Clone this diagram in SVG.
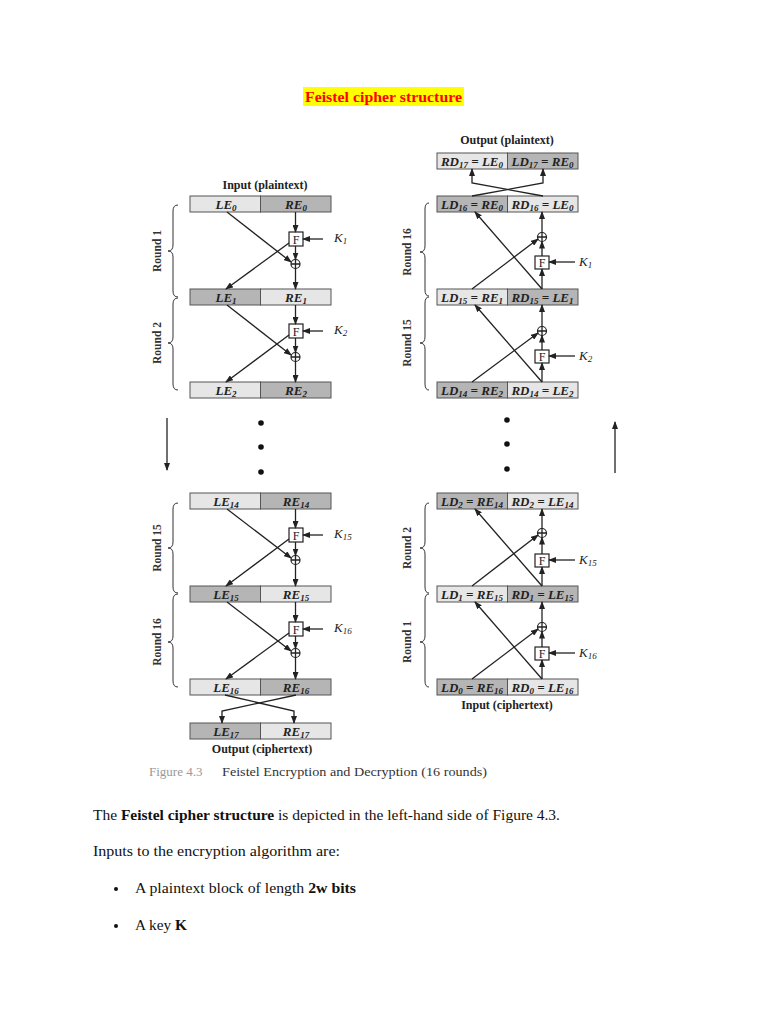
<svg xmlns="http://www.w3.org/2000/svg" width="768" height="1024" viewBox="0 0 768 1024">
<style>
.bx{stroke:#555;stroke-width:1}
.lt{fill:#e6e6e6}
.dk{fill:#b5b5b5}
.ln{fill:none;stroke:#222;stroke-width:1.3}
.ar{fill:none;stroke:#222;stroke-width:1.3;marker-end:url(#ah)}
.fb{fill:#fff;stroke:#222;stroke-width:1.2}
.br{fill:none;stroke:#333;stroke-width:1}
.lb{font-family:"Liberation Serif",serif;font-style:italic;font-weight:bold;font-size:13px;fill:#222;text-anchor:middle}
.sb{font-size:9px}
.hd{font-family:"Liberation Serif",serif;font-weight:bold;font-size:12px;fill:#222;text-anchor:middle}
.rd{font-family:"Liberation Serif",serif;font-weight:bold;font-size:11.5px;fill:#333;text-anchor:middle}
.ft{font-family:"Liberation Serif",serif;font-size:12px;fill:#222;text-anchor:middle}
.ky{font-family:"Liberation Serif",serif;font-style:italic;font-size:13px;fill:#222}
.body{font-family:"Liberation Serif",serif;font-size:15px;fill:#111}
</style>
<defs>
<marker id="ah" markerUnits="userSpaceOnUse" markerWidth="8" markerHeight="6" refX="7" refY="3" orient="auto">
<path d="M0,0 L8,3 L0,6 z" fill="#222"/>
</marker>
</defs>
<rect width="768" height="1024" fill="#fff"/>

<!-- Title -->
<g id="title">
<rect x="303" y="87" width="161" height="19" fill="#ffff00"/>
<text x="383.5" y="101.5" font-family="Liberation Serif,serif" font-weight="bold" font-size="15" fill="#ff0000" text-anchor="middle" textLength="157" lengthAdjust="spacingAndGlyphs">Feistel cipher structure</text>
</g>

<!-- LEFT: Encryption -->
<text class="hd" x="265" y="189">Input (plaintext)</text>

<g id="enc-box0">
<rect class="bx lt" x="190" y="196" width="70.5" height="16"/><rect class="bx dk" x="260.5" y="196" width="70.5" height="16"/>
<text class="lb" x="226" y="208.5">LE<tspan class="sb" dy="2">0</tspan></text>
<text class="lb" x="296" y="208.5">RE<tspan class="sb" dy="2">0</tspan></text>
</g>
<g id="enc-box1">
<rect class="bx dk" x="190" y="289" width="70.5" height="16"/><rect class="bx lt" x="260.5" y="289" width="70.5" height="16"/>
<text class="lb" x="226" y="301.5">LE<tspan class="sb" dy="2">1</tspan></text>
<text class="lb" x="296" y="301.5">RE<tspan class="sb" dy="2">1</tspan></text>
</g>
<g id="enc-box2">
<rect class="bx lt" x="190" y="382" width="70.5" height="16"/><rect class="bx dk" x="260.5" y="382" width="70.5" height="16"/>
<text class="lb" x="226" y="394.5">LE<tspan class="sb" dy="2">2</tspan></text>
<text class="lb" x="296" y="394.5">RE<tspan class="sb" dy="2">2</tspan></text>
</g>
<g id="enc-box14">
<rect class="bx lt" x="190" y="493" width="70.5" height="16"/><rect class="bx dk" x="260.5" y="493" width="70.5" height="16"/>
<text class="lb" x="226" y="505.5">LE<tspan class="sb" dy="2">14</tspan></text>
<text class="lb" x="296" y="505.5">RE<tspan class="sb" dy="2">14</tspan></text>
</g>
<g id="enc-box15">
<rect class="bx dk" x="190" y="586" width="70.5" height="16"/><rect class="bx lt" x="260.5" y="586" width="70.5" height="16"/>
<text class="lb" x="226" y="598.5">LE<tspan class="sb" dy="2">15</tspan></text>
<text class="lb" x="296" y="598.5">RE<tspan class="sb" dy="2">15</tspan></text>
</g>
<g id="enc-box16">
<rect class="bx lt" x="190" y="679" width="70.5" height="16"/><rect class="bx dk" x="260.5" y="679" width="70.5" height="16"/>
<text class="lb" x="226" y="691.5">LE<tspan class="sb" dy="2">16</tspan></text>
<text class="lb" x="296" y="691.5">RE<tspan class="sb" dy="2">16</tspan></text>
</g>
<g id="enc-box17">
<rect class="bx dk" x="190" y="723" width="70.5" height="16"/><rect class="bx lt" x="260.5" y="723" width="70.5" height="16"/>
<text class="lb" x="226" y="735.5">LE<tspan class="sb" dy="2">17</tspan></text>
<text class="lb" x="296" y="735.5">RE<tspan class="sb" dy="2">17</tspan></text>
</g>
<text class="hd" x="262" y="753">Output (ciphertext)</text>

<!-- F boxes and XORs (left) -->
<g id="enc-f1"><rect class="fb" x="289" y="232" width="14" height="14"/><text class="ft" x="296" y="243.5">F</text></g>
<g id="enc-x1"><circle class="fb" cx="295.5" cy="264" r="4.5"/><path class="ln" d="M291 264 H300 M295.5 259.5 V268.5" stroke-width="1"/></g>
<g id="enc-f2"><rect class="fb" x="289" y="324" width="14" height="14"/><text class="ft" x="296" y="335.5">F</text></g>
<g id="enc-x2"><circle class="fb" cx="295.5" cy="357" r="4.5"/><path class="ln" d="M291 357 H300 M295.5 352.5 V361.5" stroke-width="1"/></g>
<g id="enc-f15"><rect class="fb" x="289" y="528" width="14" height="14"/><text class="ft" x="296" y="539.5">F</text></g>
<g id="enc-x15"><circle class="fb" cx="295.5" cy="560" r="4.5"/><path class="ln" d="M291 560 H300 M295.5 555.5 V564.5" stroke-width="1"/></g>
<g id="enc-f16"><rect class="fb" x="289" y="622" width="14" height="14"/><text class="ft" x="296" y="633.5">F</text></g>
<g id="enc-x16"><circle class="fb" cx="295.5" cy="653" r="4.5"/><path class="ln" d="M291 653 H300 M295.5 648.5 V657.5" stroke-width="1"/></g>

<g id="enc-keys">
<text class="ky" x="334" y="242">K<tspan class="sb" dy="2">1</tspan></text>
<text class="ky" x="334" y="334">K<tspan class="sb" dy="2">2</tspan></text>
<text class="ky" x="334" y="538">K<tspan class="sb" dy="2">15</tspan></text>
<text class="ky" x="334" y="632">K<tspan class="sb" dy="2">16</tspan></text>
</g>

<!-- Braces and round labels (left) -->
<g id="enc-rounds">
<path class="br" d="M178 205 Q173 205 173 211 L173 245 Q173 251 168 251 Q173 251 173 257 L173 291 Q173 297 178 297"/>
<path class="br" d="M178 298 Q173 298 173 304 L173 337 Q173 343 168 343 Q173 343 173 349 L173 384 Q173 390 178 390"/>
<path class="br" d="M178 503 Q173 503 173 509 L173 542 Q173 548 168 548 Q173 548 173 554 L173 587 Q173 593 178 593"/>
<path class="br" d="M178 594 Q173 594 173 600 L173 636 Q173 642 168 642 Q173 642 173 648 L173 681 Q173 687 178 687"/>
<text class="rd" transform="translate(161,251) rotate(-90)">Round 1</text>
<text class="rd" transform="translate(161,343) rotate(-90)">Round 2</text>
<text class="rd" transform="translate(161,548) rotate(-90)">Round 15</text>
<text class="rd" transform="translate(161,642) rotate(-90)">Round 16</text>
</g>

<!-- RIGHT: Decryption -->
<text class="hd" x="507" y="144">Output (plaintext)</text>
<g id="dec-box17">
<rect class="bx lt" x="437" y="153" width="70.5" height="16"/><rect class="bx dk" x="507.5" y="153" width="70.5" height="16"/>
<text class="lb" x="472" y="165.5">RD<tspan class="sb" dy="2">17</tspan><tspan dy="-2"> = LE</tspan><tspan class="sb" dy="2">0</tspan></text>
<text class="lb" x="542.5" y="165.5">LD<tspan class="sb" dy="2">17</tspan><tspan dy="-2"> = RE</tspan><tspan class="sb" dy="2">0</tspan></text>
</g>
<g id="dec-box16">
<rect class="bx dk" x="437" y="196" width="70.5" height="16"/><rect class="bx lt" x="507.5" y="196" width="70.5" height="16"/>
<text class="lb" x="472" y="208.5">LD<tspan class="sb" dy="2">16</tspan><tspan dy="-2"> = RE</tspan><tspan class="sb" dy="2">0</tspan></text>
<text class="lb" x="542.5" y="208.5">RD<tspan class="sb" dy="2">16</tspan><tspan dy="-2"> = LE</tspan><tspan class="sb" dy="2">0</tspan></text>
</g>
<g id="dec-box15">
<rect class="bx lt" x="437" y="289" width="70.5" height="16"/><rect class="bx dk" x="507.5" y="289" width="70.5" height="16"/>
<text class="lb" x="472" y="301.5">LD<tspan class="sb" dy="2">15</tspan><tspan dy="-2"> = RE</tspan><tspan class="sb" dy="2">1</tspan></text>
<text class="lb" x="542.5" y="301.5">RD<tspan class="sb" dy="2">15</tspan><tspan dy="-2"> = LE</tspan><tspan class="sb" dy="2">1</tspan></text>
</g>
<g id="dec-box14">
<rect class="bx dk" x="437" y="382" width="70.5" height="16"/><rect class="bx lt" x="507.5" y="382" width="70.5" height="16"/>
<text class="lb" x="472" y="394.5">LD<tspan class="sb" dy="2">14</tspan><tspan dy="-2"> = RE</tspan><tspan class="sb" dy="2">2</tspan></text>
<text class="lb" x="542.5" y="394.5">RD<tspan class="sb" dy="2">14</tspan><tspan dy="-2"> = LE</tspan><tspan class="sb" dy="2">2</tspan></text>
</g>
<g id="dec-box2">
<rect class="bx dk" x="437" y="493" width="70.5" height="16"/><rect class="bx lt" x="507.5" y="493" width="70.5" height="16"/>
<text class="lb" x="472" y="505.5">LD<tspan class="sb" dy="2">2</tspan><tspan dy="-2"> = RE</tspan><tspan class="sb" dy="2">14</tspan></text>
<text class="lb" x="542.5" y="505.5">RD<tspan class="sb" dy="2">2</tspan><tspan dy="-2"> = LE</tspan><tspan class="sb" dy="2">14</tspan></text>
</g>
<g id="dec-box1">
<rect class="bx lt" x="437" y="586" width="70.5" height="16"/><rect class="bx dk" x="507.5" y="586" width="70.5" height="16"/>
<text class="lb" x="472" y="598.5">LD<tspan class="sb" dy="2">1</tspan><tspan dy="-2"> = RE</tspan><tspan class="sb" dy="2">15</tspan></text>
<text class="lb" x="542.5" y="598.5">RD<tspan class="sb" dy="2">1</tspan><tspan dy="-2"> = LE</tspan><tspan class="sb" dy="2">15</tspan></text>
</g>
<g id="dec-box0">
<rect class="bx dk" x="437" y="679" width="70.5" height="16"/><rect class="bx lt" x="507.5" y="679" width="70.5" height="16"/>
<text class="lb" x="472" y="691.5">LD<tspan class="sb" dy="2">0</tspan><tspan dy="-2"> = RE</tspan><tspan class="sb" dy="2">16</tspan></text>
<text class="lb" x="542.5" y="691.5">RD<tspan class="sb" dy="2">0</tspan><tspan dy="-2"> = LE</tspan><tspan class="sb" dy="2">16</tspan></text>
</g>
<text class="hd" x="507" y="709">Input (ciphertext)</text>

<!-- F boxes and XORs (right) -->
<g id="dec-f16"><rect class="fb" x="535" y="256" width="14" height="13"/><text class="ft" x="542" y="267">F</text></g>
<g id="dec-x16"><circle class="fb" cx="542" cy="237" r="4.5"/><path class="ln" d="M537.5 237 H546.5 M542 232.5 V241.5" stroke-width="1"/></g>
<g id="dec-f15"><rect class="fb" x="535" y="350" width="14" height="13"/><text class="ft" x="542" y="361">F</text></g>
<g id="dec-x15"><circle class="fb" cx="542" cy="331" r="4.5"/><path class="ln" d="M537.5 331 H546.5 M542 326.5 V335.5" stroke-width="1"/></g>
<g id="dec-f2"><rect class="fb" x="535" y="554" width="14" height="13"/><text class="ft" x="542" y="565">F</text></g>
<g id="dec-x2"><circle class="fb" cx="542" cy="533" r="4.5"/><path class="ln" d="M537.5 533 H546.5 M542 528.5 V537.5" stroke-width="1"/></g>
<g id="dec-f1"><rect class="fb" x="535" y="647" width="14" height="13"/><text class="ft" x="542" y="658">F</text></g>
<g id="dec-x1"><circle class="fb" cx="542" cy="627" r="4.5"/><path class="ln" d="M537.5 627 H546.5 M542 622.5 V631.5" stroke-width="1"/></g>

<g id="dec-keys">
<text class="ky" x="579" y="266">K<tspan class="sb" dy="2">1</tspan></text>
<text class="ky" x="579" y="360">K<tspan class="sb" dy="2">2</tspan></text>
<text class="ky" x="579" y="564">K<tspan class="sb" dy="2">15</tspan></text>
<text class="ky" x="579" y="657">K<tspan class="sb" dy="2">16</tspan></text>
</g>

<g id="dec-rounds">
<path class="br" d="M429 203 Q425 203 425 209 L425 246 Q425 252 420 252 Q425 252 425 258 L425 290 Q425 296 429 296"/>
<path class="br" d="M429 297 Q425 297 425 303 L425 337 Q425 343 420 343 Q425 343 425 349 L425 384 Q425 390 429 390"/>
<path class="br" d="M429 503 Q425 503 425 509 L425 542 Q425 548 420 548 Q425 548 425 554 L425 587 Q425 593 429 593"/>
<path class="br" d="M429 594 Q425 594 425 600 L425 636 Q425 642 420 642 Q425 642 425 648 L425 681 Q425 687 429 687"/>
<text class="rd" transform="translate(411,252) rotate(-90)">Round 16</text>
<text class="rd" transform="translate(411,343) rotate(-90)">Round 15</text>
<text class="rd" transform="translate(411,548) rotate(-90)">Round 2</text>
<text class="rd" transform="translate(411,642) rotate(-90)">Round 1</text>
</g>

<!-- Connectors -->
<g id="connectors">
<path class="ar" d="M295.5 212 V232"/>
<path class="ar" d="M295.5 246 V259.5"/>
<path class="ar" d="M295.5 268.5 V289"/>
<path class="ar" d="M227 212 L291 262"/>
<path class="ar" d="M289 243 L226 289"/>
<path class="ar" d="M323 239 H303"/>
<path class="ar" d="M295.5 305 V324"/>
<path class="ar" d="M295.5 338 V352.5"/>
<path class="ar" d="M295.5 361.5 V382"/>
<path class="ar" d="M227 305 L291 355"/>
<path class="ar" d="M289 335 L226 382"/>
<path class="ar" d="M323 331 H303"/>
<path class="ar" d="M295.5 509 V528"/>
<path class="ar" d="M295.5 542 V555.5"/>
<path class="ar" d="M295.5 564.5 V586"/>
<path class="ar" d="M227 509 L291 558"/>
<path class="ar" d="M289 539 L226 586"/>
<path class="ar" d="M323 535 H303"/>
<path class="ar" d="M295.5 602 V622"/>
<path class="ar" d="M295.5 636 V648.5"/>
<path class="ar" d="M295.5 657.5 V679"/>
<path class="ar" d="M227 602 L291 651"/>
<path class="ar" d="M289 633 L226 679"/>
<path class="ar" d="M323 629 H303" stroke-width="2"/>
<path class="ar" d="M225 695 L294 711 V723"/>
<path class="ar" d="M296 695 L222 711 V723"/>
<path class="ar" d="M167 418 V470"/>
<circle cx="261" cy="423" r="2.8" fill="#111"/>
<circle cx="261" cy="447" r="2.8" fill="#111"/>
<circle cx="261" cy="472" r="2.8" fill="#111"/>

<path class="ar" d="M472 196 L543 183 V169"/>
<path class="ar" d="M543 196 L472 183 V169"/>
<path class="ar" d="M542 289 V269"/>
<path class="ar" d="M542 256 V241.5"/>
<path class="ar" d="M542 232.5 V212"/>
<path class="ar" d="M542 289 L475 212"/>
<path class="ar" d="M472 289 L538 239"/>
<path class="ar" d="M575 262 H549"/>
<path class="ar" d="M542 382 V363"/>
<path class="ar" d="M542 350 V335.5"/>
<path class="ar" d="M542 326.5 V305"/>
<path class="ar" d="M542 382 L475 305"/>
<path class="ar" d="M472 382 L538 333"/>
<path class="ar" d="M575 356 H549"/>
<path class="ar" d="M542 586 V567"/>
<path class="ar" d="M542 554 V537.5"/>
<path class="ar" d="M542 528.5 V509"/>
<path class="ar" d="M542 586 L475 509"/>
<path class="ar" d="M472 586 L538 535"/>
<path class="ar" d="M575 560 H549"/>
<path class="ar" d="M542 679 V660"/>
<path class="ar" d="M542 647 V631.5"/>
<path class="ar" d="M542 622.5 V602"/>
<path class="ar" d="M542 679 L475 602"/>
<path class="ar" d="M472 679 L538 629"/>
<path class="ar" d="M575 653 H549"/>
<path class="ar" d="M615 473 V422" stroke-width="1.6"/>
<circle cx="507" cy="420" r="2.8" fill="#111"/>
<circle cx="507" cy="444" r="2.8" fill="#111"/>
<circle cx="507" cy="469" r="2.8" fill="#111"/>
</g>

<g id="caption">
<text x="149" y="776" font-family="Liberation Serif,serif" font-size="13" fill="#999">Figure 4.3</text>
<text x="222" y="776" font-family="Liberation Serif,serif" font-size="13" fill="#333" textLength="265" lengthAdjust="spacingAndGlyphs">Feistel Encryption and Decryption (16 rounds)</text>
</g>

<g id="body">
<text class="body" x="93" y="820" textLength="467" lengthAdjust="spacingAndGlyphs">The <tspan font-weight="bold">Feistel cipher structure</tspan> is depicted in the left-hand side of Figure 4.3.</text>
<text class="body" x="93" y="856" textLength="247" lengthAdjust="spacingAndGlyphs">Inputs to the encryption algorithm are:</text>
<circle cx="116" cy="889" r="2" fill="#111"/>
<text class="body" x="135" y="893" textLength="221" lengthAdjust="spacingAndGlyphs">A plaintext block of length <tspan font-weight="bold">2w bits</tspan></text>
<circle cx="116" cy="926" r="2" fill="#111"/>
<text class="body" x="135" y="930" textLength="52" lengthAdjust="spacingAndGlyphs">A key <tspan font-weight="bold">K</tspan></text>
</g>
</svg>
